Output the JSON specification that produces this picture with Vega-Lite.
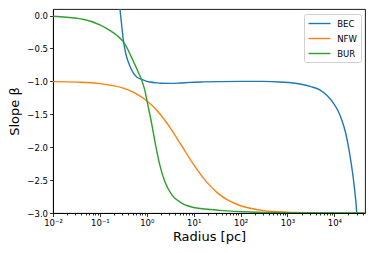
{
  "$schema": "https://vega.github.io/schema/vega-lite/v6.json",
  "autosize": {"type": "none"},
  "padding": {"left": 53, "top": 9, "right": 9, "bottom": 40},
  "width": 312,
  "height": 204,
  "config": {
    "font": "DejaVu Sans",
    "view": {"stroke": "black", "strokeWidth": 0.9},
    "axis": {"grid": false, "domainColor": "black", "tickColor": "black", "labelColor": "black", "titleColor": "black", "labelFontSize": 8.5, "titleFontSize": 13, "titleFontWeight": "normal", "domainWidth": 0.9, "tickWidth": 0.8}
  },
  "data": {"values": [
    {"r": 0.2399, "beta": 0.6, "profile": "BEC"},
    {"r": 0.2685, "beta": 0.1, "profile": "BEC"},
    {"r": 0.2917, "beta": -0.15, "profile": "BEC"},
    {"r": 0.3155, "beta": -0.37, "profile": "BEC"},
    {"r": 0.3428, "beta": -0.52, "profile": "BEC"},
    {"r": 0.3724, "beta": -0.63, "profile": "BEC"},
    {"r": 0.4385, "beta": -0.77, "profile": "BEC"},
    {"r": 0.5152, "beta": -0.87, "profile": "BEC"},
    {"r": 0.631, "beta": -0.94, "profile": "BEC"},
    {"r": 0.778, "beta": -0.97, "profile": "BEC"},
    {"r": 1.0, "beta": -1.0, "profile": "BEC"},
    {"r": 1.17, "beta": -1.01, "profile": "BEC"},
    {"r": 1.585, "beta": -1.022, "profile": "BEC"},
    {"r": 1.995, "beta": -1.028, "profile": "BEC"},
    {"r": 3.162, "beta": -1.03, "profile": "BEC"},
    {"r": 5.012, "beta": -1.025, "profile": "BEC"},
    {"r": 8.318, "beta": -1.015, "profile": "BEC"},
    {"r": 15.85, "beta": -1.008, "profile": "BEC"},
    {"r": 36.31, "beta": -1.003, "profile": "BEC"},
    {"r": 100, "beta": -1.0, "profile": "BEC"},
    {"r": 316.2, "beta": -1.0, "profile": "BEC"},
    {"r": 691.8, "beta": -1.01, "profile": "BEC"},
    {"r": 1862, "beta": -1.04, "profile": "BEC"},
    {"r": 3162, "beta": -1.08, "profile": "BEC"},
    {"r": 4898, "beta": -1.13, "profile": "BEC"},
    {"r": 7079, "beta": -1.22, "profile": "BEC"},
    {"r": 9550, "beta": -1.33, "profile": "BEC"},
    {"r": 12023, "beta": -1.45, "profile": "BEC"},
    {"r": 14454, "beta": -1.59, "profile": "BEC"},
    {"r": 17378, "beta": -1.78, "profile": "BEC"},
    {"r": 19953, "beta": -1.99, "profile": "BEC"},
    {"r": 22909, "beta": -2.25, "profile": "BEC"},
    {"r": 25119, "beta": -2.45, "profile": "BEC"},
    {"r": 27542, "beta": -2.7, "profile": "BEC"},
    {"r": 29854, "beta": -3.0, "profile": "BEC"},
    {"r": 30903, "beta": -3.3, "profile": "BEC"},
    {"r": 0.01, "beta": -1.003, "profile": "NFW"},
    {"r": 0.03162, "beta": -1.011, "profile": "NFW"},
    {"r": 0.1, "beta": -1.034, "profile": "NFW"},
    {"r": 0.3162, "beta": -1.103, "profile": "NFW"},
    {"r": 0.5623, "beta": -1.177, "profile": "NFW"},
    {"r": 1.0, "beta": -1.294, "profile": "NFW"},
    {"r": 1.778, "beta": -1.469, "profile": "NFW"},
    {"r": 3.162, "beta": -1.706, "profile": "NFW"},
    {"r": 5.623, "beta": -1.985, "profile": "NFW"},
    {"r": 10, "beta": -2.266, "profile": "NFW"},
    {"r": 17.78, "beta": -2.508, "profile": "NFW"},
    {"r": 31.62, "beta": -2.69, "profile": "NFW"},
    {"r": 56.23, "beta": -2.813, "profile": "NFW"},
    {"r": 100, "beta": -2.89, "profile": "NFW"},
    {"r": 316.2, "beta": -2.964, "profile": "NFW"},
    {"r": 1000, "beta": -2.988, "profile": "NFW"},
    {"r": 3162, "beta": -2.996, "profile": "NFW"},
    {"r": 10000, "beta": -2.999, "profile": "NFW"},
    {"r": 45000, "beta": -3.0, "profile": "NFW"},
    {"r": 0.01, "beta": -0.01, "profile": "BUR"},
    {"r": 0.0316, "beta": -0.04, "profile": "BUR"},
    {"r": 0.0437, "beta": -0.055, "profile": "BUR"},
    {"r": 0.1, "beta": -0.14, "profile": "BUR"},
    {"r": 0.1585, "beta": -0.22, "profile": "BUR"},
    {"r": 0.229, "beta": -0.3, "profile": "BUR"},
    {"r": 0.316, "beta": -0.4, "profile": "BUR"},
    {"r": 0.3715, "beta": -0.48, "profile": "BUR"},
    {"r": 0.4365, "beta": -0.58, "profile": "BUR"},
    {"r": 0.5129, "beta": -0.69, "profile": "BUR"},
    {"r": 0.631, "beta": -0.83, "profile": "BUR"},
    {"r": 0.776, "beta": -0.98, "profile": "BUR"},
    {"r": 0.912, "beta": -1.14, "profile": "BUR"},
    {"r": 1.0, "beta": -1.28, "profile": "BUR"},
    {"r": 1.122, "beta": -1.45, "profile": "BUR"},
    {"r": 1.27, "beta": -1.64, "profile": "BUR"},
    {"r": 1.496, "beta": -1.92, "profile": "BUR"},
    {"r": 1.698, "beta": -2.12, "profile": "BUR"},
    {"r": 1.91, "beta": -2.28, "profile": "BUR"},
    {"r": 2.443, "beta": -2.53, "profile": "BUR"},
    {"r": 3.388, "beta": -2.72, "profile": "BUR"},
    {"r": 5.546, "beta": -2.85, "profile": "BUR"},
    {"r": 10.72, "beta": -2.92, "profile": "BUR"},
    {"r": 17.38, "beta": -2.94, "profile": "BUR"},
    {"r": 36.31, "beta": -2.96, "profile": "BUR"},
    {"r": 158.5, "beta": -2.985, "profile": "BUR"},
    {"r": 1000, "beta": -2.995, "profile": "BUR"},
    {"r": 44668, "beta": -3.0, "profile": "BUR"}
  ]},
  "mark": {"type": "line", "clip": true, "strokeWidth": 1.4, "interpolate": "monotone"},
  "encoding": {
    "x": {
      "field": "r", "type": "quantitative",
      "scale": {"type": "log", "domain": [0.01, 45000], "nice": false},
      "axis": {
        "title": "Radius [pc]", "titlePadding": 3,
        "values": [0.01,0.02,0.03,0.04,0.05,0.06,0.07,0.08,0.09,0.1,0.2,0.3,0.4,0.5,0.6,0.7,0.8,0.9,1,2,3,4,5,6,7,8,9,10,20,30,40,50,60,70,80,90,100,200,300,400,500,600,700,800,900,1000,2000,3000,4000,5000,6000,7000,8000,9000,10000,20000,30000,40000],
        "labelExpr": "datum.value == 0.01 ? '10⁻²' : datum.value == 0.1 ? '10⁻¹' : datum.value == 1 ? '10⁰' : datum.value == 10 ? '10¹' : datum.value == 100 ? '10²' : datum.value == 1000 ? '10³' : datum.value == 10000 ? '10⁴' : ''",
        "tickSize": {"condition": {"test": "indexof([0.01,0.1,1,10,100,1000,10000], datum.value) >= 0", "value": 3.5}, "value": 2},
        "labelFlush": false, "labelPadding": 2, "labelOverlap": false
      }
    },
    "y": {
      "field": "beta", "type": "quantitative",
      "scale": {"domain": [-3.0, 0.1], "nice": false, "zero": false},
      "axis": {"title": "Slope β", "values": [-3, -2.5, -2, -1.5, -1, -0.5, 0], "format": ".1f", "tickSize": 3.5, "titlePadding": 5, "labelPadding": 2}
    },
    "color": {
      "field": "profile", "type": "nominal",
      "scale": {"domain": ["BEC", "NFW", "BUR"], "range": ["#1f77b4", "#ff7f0e", "#2ca02c"]},
      "legend": {
        "title": null, "orient": "top-right", "offset": 4.5,
        "symbolType": "M-1,0H3.4", "symbolSize": 100, "symbolStrokeWidth": 1.4,
        "labelFontSize": 8.5, "labelColor": "black", "labelOffset": 17.7,
        "strokeColor": "#d0d0d0", "fillColor": "white", "cornerRadius": 2, "padding": 3.5,
        "rowPadding": 4
      }
    }
  }
}
